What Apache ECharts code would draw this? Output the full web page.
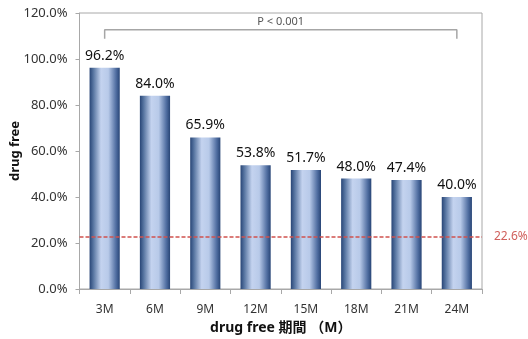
<!DOCTYPE html>
<html>
<head>
<meta charset="utf-8">
<script src="https://cdn.jsdelivr.net/npm/echarts@6/dist/echarts.min.js"></script>
<style>
  html, body { margin: 0; padding: 0; background: #fff; }
  #chart { width: 528px; height: 339px; }
</style>
</head>
<body>
<div id="chart"></div>
<script>
// Drug-free rate by drug-free period
const categories = ['3M', '6M', '9M', '12M', '15M', '18M', '21M', '24M'];
const drugFree = [96.2, 84.0, 65.9, 53.8, 51.7, 48.0, 47.4, 40.0];
const reference = 22.6;
const yTicks = [0, 20, 40, 60, 80, 100, 120];
const pText = 'P < 0.001';
// significance bracket: from first to last period
const bracketFrom = '3M';
const bracketTo = '24M';
const bracketTop = 112.7;
const bracketFoot = 108.8;

const FONT = '"Noto Sans", "Noto Sans CJK JP", sans-serif';
const REF_RED = '#cf514d';
const chart = echarts.init(document.getElementById('chart'));

const barGradient = new echarts.graphic.LinearGradient(0, 0, 1, 0, [
  { offset: 0, color: '#284576' },
  { offset: 0.12, color: '#55739f' },
  { offset: 0.38, color: '#c4d3ef' },
  { offset: 0.62, color: '#b8cae9' },
  { offset: 0.88, color: '#4f6da0' },
  { offset: 1, color: '#284576' }
]);

chart.setOption({
  animation: false,
  textStyle: { fontFamily: FONT },
  grid: {
    left: 79.5, right: 46, top: 13, bottom: 50,
    outerBoundsMode: 'none',
    containLabel: false,
    show: true, borderColor: '#a8a8a8', borderWidth: 1
  },
  xAxis: {
    type: 'category',
    data: categories,
    name: 'drug free 期間 （M）',
    nameLocation: 'middle',
    nameGap: 32,
    nameTextStyle: { fontFamily: FONT, fontWeight: 'bold', fontSize: 14, color: '#111' },
    axisLine: { lineStyle: { color: '#a8a8a8' } },
    axisTick: { show: true, length: 5, lineStyle: { color: '#a8a8a8' } },
    axisLabel: { fontSize: 12, color: '#333', margin: 15 }
  },
  yAxis: {
    type: 'value',
    min: yTicks[0], max: yTicks[yTicks.length - 1], interval: 20,
    name: 'drug free',
    nameLocation: 'middle',
    nameGap: 58,
    nameMoveOverlap: false,
    nameTextStyle: { fontFamily: FONT, fontWeight: 'bold', fontSize: 13, color: '#111' },
    axisLine: { show: true, lineStyle: { color: '#a8a8a8' } },
    axisTick: { show: true, length: 4, lineStyle: { color: '#a8a8a8' } },
    splitLine: { show: false },
    axisLabel: {
      fontSize: 13, color: '#333', margin: 12,
      formatter: v => v.toFixed(1) + '%'
    }
  },
  series: [
    {
      type: 'bar',
      data: drugFree,
      barWidth: '60%',
      itemStyle: { color: barGradient },
      label: {
        show: true, position: 'top', distance: 5,
        fontSize: 14, color: '#111',
        formatter: p => p.value.toFixed(1) + '%'
      }
    },
    {
      // reference level across the whole plot
      type: 'line',
      data: [],
      color: REF_RED,
      z: 5,
      markLine: {
        silent: true,
        symbol: 'none',
        lineStyle: { color: REF_RED, type: [4, 2], width: 1.5 },
        label: {
          position: 'end', distance: 12,
          color: '#d0605c', fontSize: 12,
          formatter: () => reference.toFixed(1) + '%'
        },
        data: [{ yAxis: reference }]
      }
    },
    {
      type: 'line',
      data: [
        [bracketFrom, bracketFoot],
        [bracketFrom, bracketTop],
        [bracketTo, bracketTop],
        [bracketTo, bracketFoot]
      ],
      symbol: 'none',
      lineStyle: { color: '#a6a6a6', width: 1.5 },
      silent: true
    }
  ]
});

// P-value caption above the bracket, centred on it
const left = chart.convertToPixel({ xAxisIndex: 0, yAxisIndex: 0 }, [bracketFrom, bracketTop]);
const right = chart.convertToPixel({ xAxisIndex: 0, yAxisIndex: 0 }, [bracketTo, bracketTop]);
chart.setOption({
  graphic: [{
    type: 'text',
    x: (left[0] + right[0]) / 2,
    y: left[1] - 2,
    style: {
      text: pText, fill: '#555', fontSize: 11, fontFamily: FONT,
      align: 'center', verticalAlign: 'bottom'
    }
  }]
});
</script>
</body>
</html>
